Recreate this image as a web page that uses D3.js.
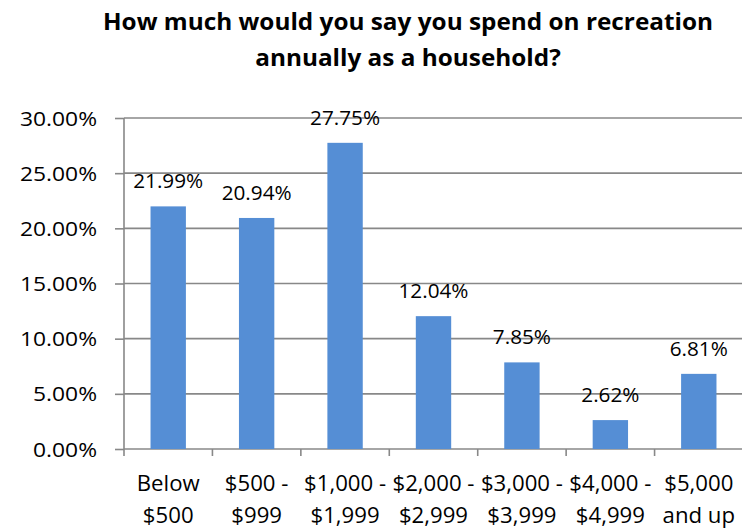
<!DOCTYPE html>
<html>
<head>
<meta charset="utf-8">
<script src="https://cdn.jsdelivr.net/npm/d3@7"></script>
<style>
  html, body { margin: 0; padding: 0; background: #fff; }
  svg { display: block; font-family: "Open Sans", Lato, sans-serif; }
</style>
</head>
<body>
<svg id="chart" width="742" height="528"></svg>
<script>
// Household recreation spending survey
const titleLines = ["How much would you say you spend on recreation", "annually as a household?"];
const categories = ["Below\n$500", "$500 -\n$999", "$1,000 -\n$1,999", "$2,000 -\n$2,999",
                    "$3,000 -\n$3,999", "$4,000 -\n$4,999", "$5,000\nand up"];
const shares = [21.99, 20.94, 27.75, 12.04, 7.85, 2.62, 6.81];   // percent of households
const yTicks = [0, 5, 10, 15, 20, 25, 30];

const svg = d3.select("#chart");
const plot = { left: 124, right: 743, top: 118, bottom: 449 };
const gridColor = "#888888";
const barColor = "#558ED5";
const fontFamily = "'Open Sans', Lato, sans-serif";

const x = d3.scaleBand().domain(categories).range([plot.left, plot.right]).padding(0);
const y = d3.scaleLinear().domain([0, 30]).range([plot.bottom, plot.top]);
const barWidth = x.bandwidth() * 0.4;

// The chart's type is set wide: scale each text run horizontally so that a
// reference string of the group spans the given width.
function widthOf(str, size, weight) {
  const t = svg.append("text").attr("font-size", size).attr("font-weight", weight || 400)
    .attr("font-family", fontFamily).text(str);
  const w = t.node().getComputedTextLength();
  t.remove();
  return w;
}
function stretch(sel, k) {
  sel.each(function () {
    const w = this.getComputedTextLength();
    if (w > 0) {
      this.setAttribute("textLength", w * k);
      this.setAttribute("lengthAdjust", "spacingAndGlyphs");
    }
  });
}

const titleSize = 23, axisSize = 20, valueSize = 20, catSize = 21.5;
const kTitle = 610 / widthOf(titleLines[0], titleSize, 700);
const kAxis = 77 / widthOf("30.00%", axisSize);
const kValue = 70 / widthOf("12.04%", valueSize);
const kCat = 82 / widthOf("$1,000 -", catSize);

// Title
const title = svg.append("g").attr("font-weight", 700).attr("font-size", titleSize)
  .attr("text-anchor", "middle").attr("fill", "#000");
title.selectAll("text").data(titleLines).join("text")
  .attr("x", 408)
  .attr("y", (d, i) => 30 + i * 35.5)
  .text(d => d)
  .call(stretch, kTitle);

// Horizontal gridlines
svg.append("g").selectAll("line").data(yTicks.filter(t => t > 0)).join("line")
  .attr("x1", plot.left).attr("x2", plot.right)
  .attr("y1", d => y(d)).attr("y2", d => y(d))
  .attr("stroke", gridColor).attr("stroke-width", 1.6);

// Y axis
const yAxis = d3.axisLeft(y).tickValues(yTicks).tickSize(9).tickPadding(18)
  .tickFormat(d => d3.format(".2f")(d) + "%");
const gy = svg.append("g").attr("transform", `translate(${plot.left},0)`).call(yAxis);
gy.select(".domain").remove();
gy.selectAll(".tick line").attr("stroke", gridColor).attr("stroke-width", 1.6);
gy.selectAll(".tick text").attr("font-size", axisSize).attr("fill", "#000")
  .attr("font-family", fontFamily).attr("dy", "0.35em")
  .call(stretch, kAxis);
svg.append("line")
  .attr("x1", plot.left).attr("x2", plot.left)
  .attr("y1", plot.top).attr("y2", plot.bottom + 7)
  .attr("stroke", gridColor).attr("stroke-width", 1.6);

// X axis baseline and category boundary ticks
svg.append("line")
  .attr("x1", plot.left).attr("x2", plot.right)
  .attr("y1", plot.bottom).attr("y2", plot.bottom)
  .attr("stroke", gridColor).attr("stroke-width", 1.6);
svg.append("g").selectAll("line").data(categories.slice(1)).join("line")
  .attr("x1", d => x(d)).attr("x2", d => x(d))
  .attr("y1", plot.bottom).attr("y2", plot.bottom + 7)
  .attr("stroke", gridColor).attr("stroke-width", 1.6);

// Category labels (two lines each)
const cat = svg.append("g").attr("font-size", catSize).attr("text-anchor", "middle").attr("fill", "#000");
categories.forEach(c => {
  const cx = x(c) + x.bandwidth() / 2;
  c.split("\n").forEach((line, i) => {
    cat.append("text").attr("x", cx).attr("y", 491 + i * 31.5).text(line);
  });
});
cat.selectAll("text").call(stretch, kCat);

// Bars
const data = categories.map((c, i) => ({ c, v: shares[i] }));
svg.append("g").selectAll("rect").data(data).join("rect")
  .attr("x", d => x(d.c) + (x.bandwidth() - barWidth) / 2)
  .attr("width", barWidth)
  .attr("y", d => y(d.v))
  .attr("height", d => y(0) - y(d.v))
  .attr("fill", barColor);

// Value labels
svg.append("g").attr("font-size", valueSize).attr("text-anchor", "middle").attr("fill", "#000")
  .selectAll("text").data(data).join("text")
  .attr("x", d => x(d.c) + x.bandwidth() / 2)
  .attr("y", d => y(d.v) - 18)
  .text(d => d.v.toFixed(2) + "%")
  .call(stretch, kValue);
</script>
</body>
</html>
